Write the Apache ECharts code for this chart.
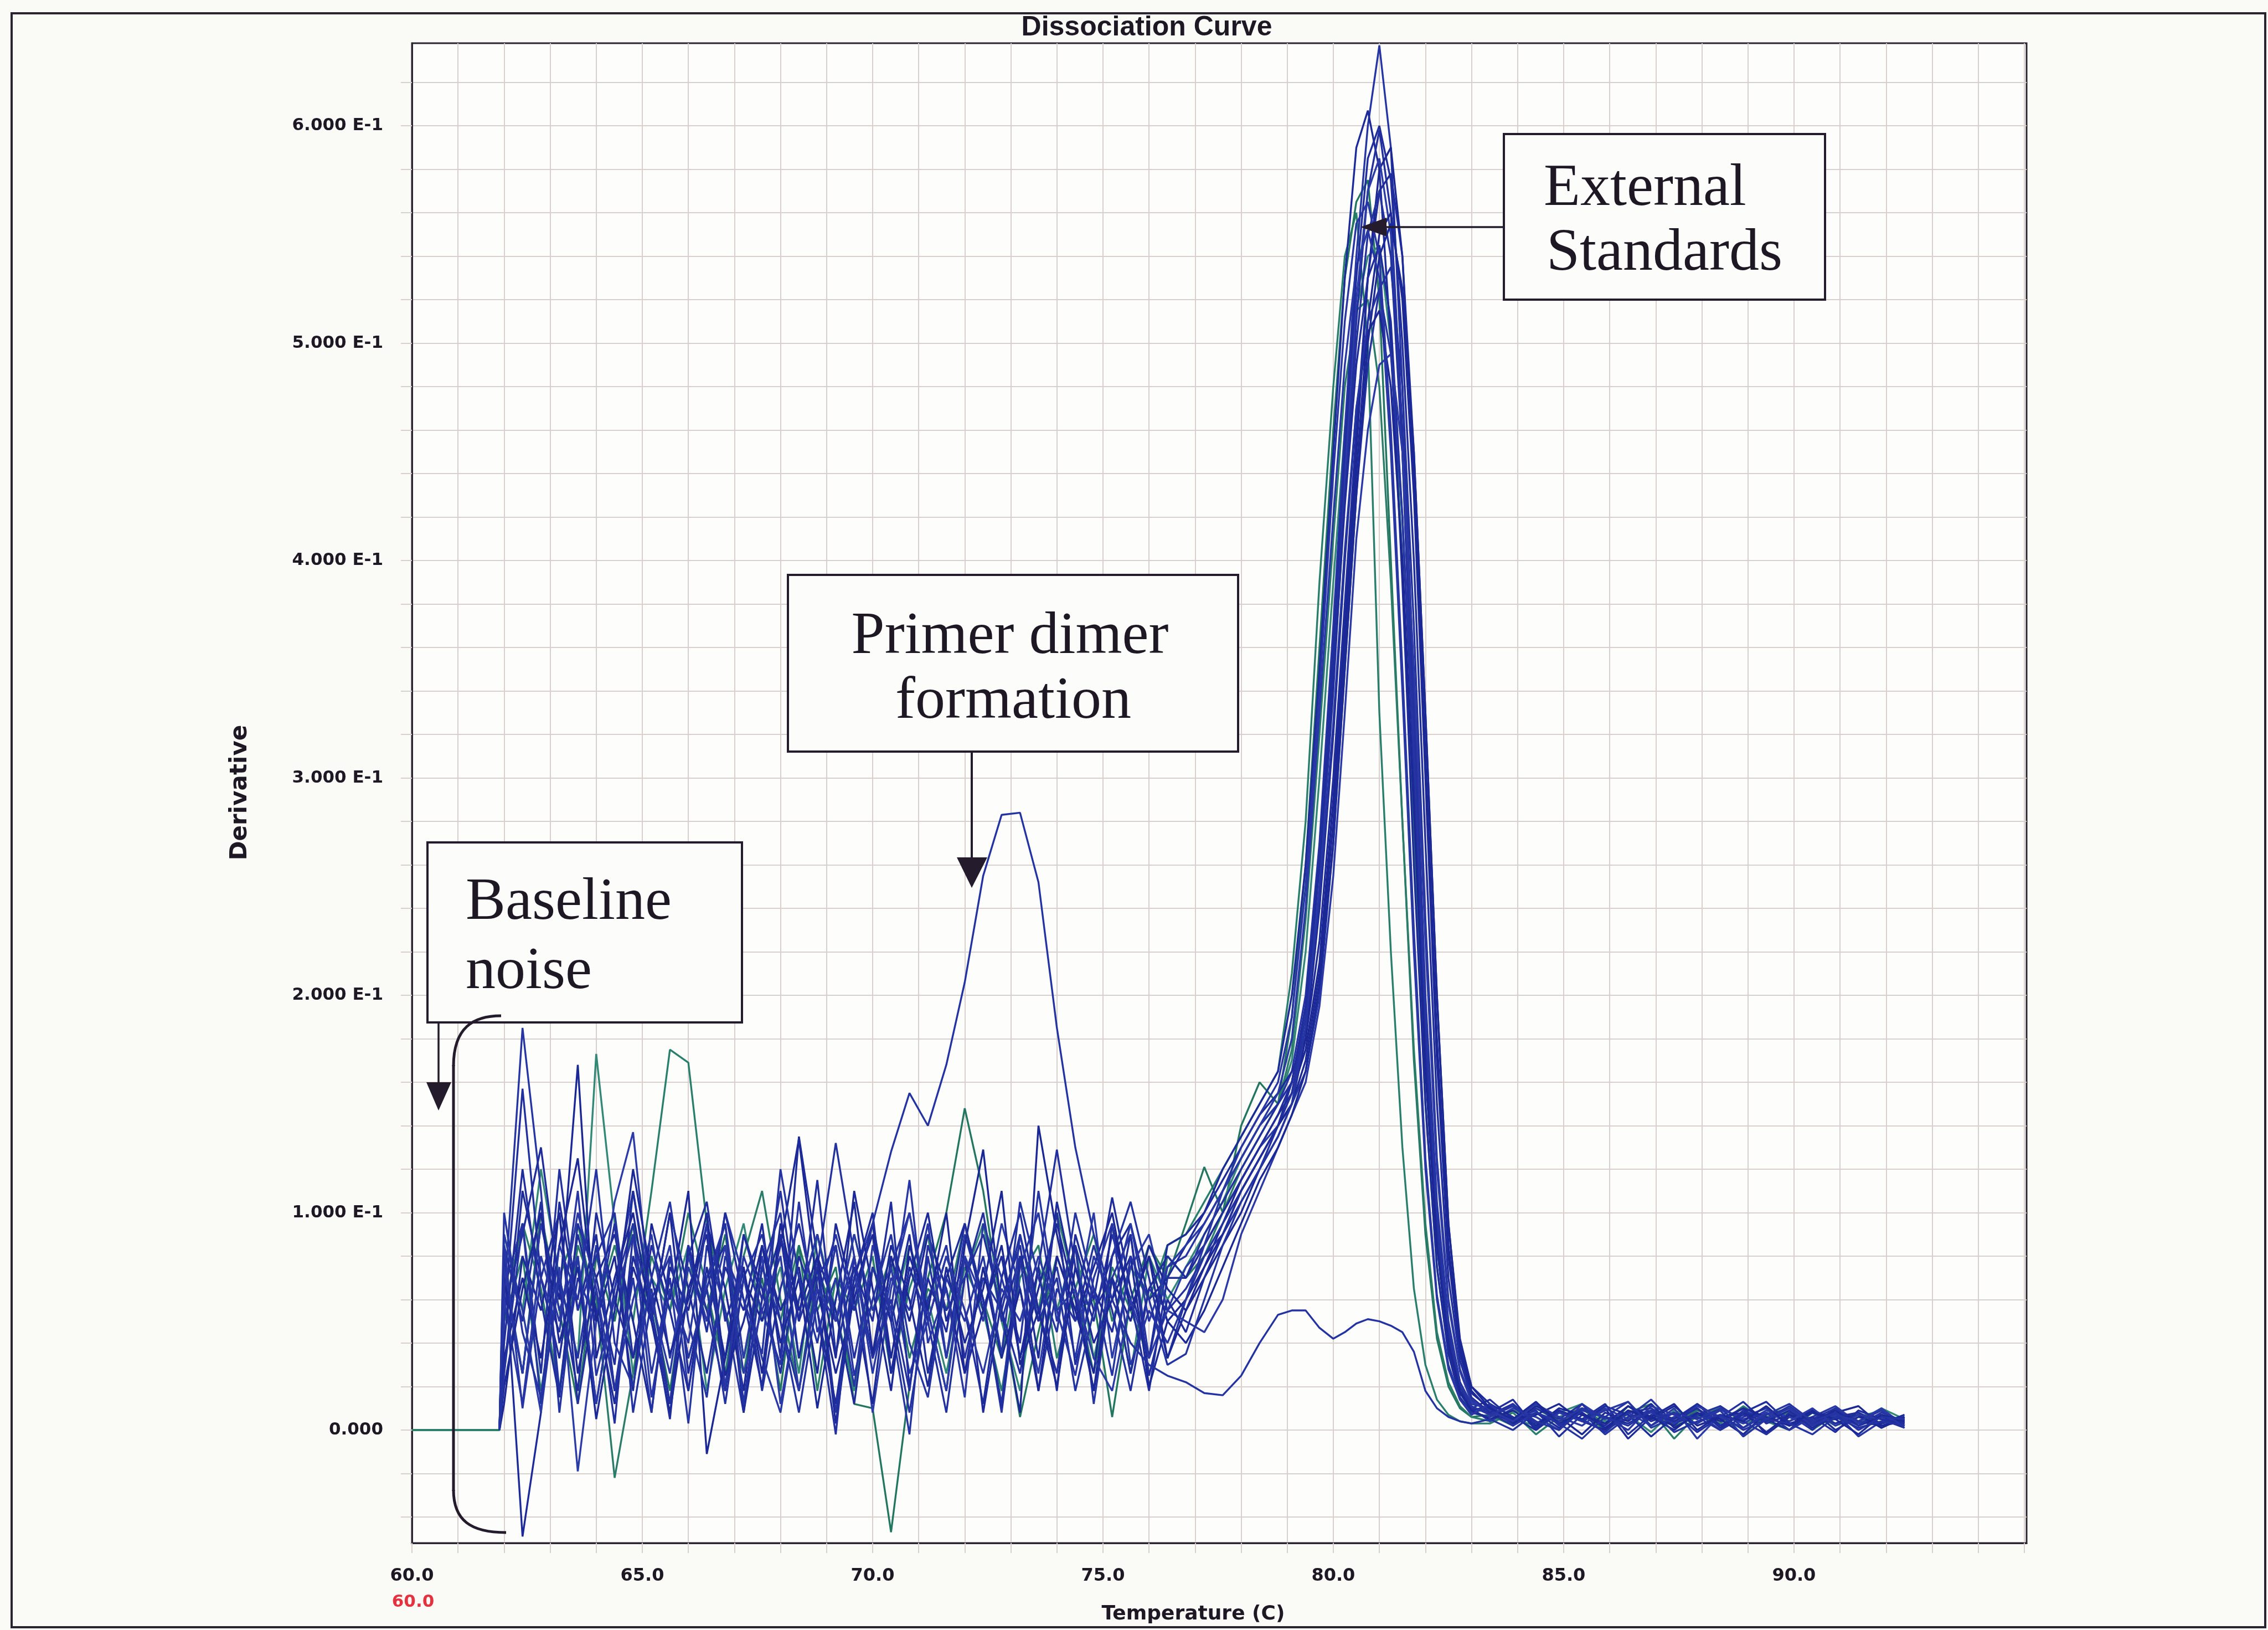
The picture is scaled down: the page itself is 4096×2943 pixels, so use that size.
<!DOCTYPE html>
<html>
<head>
<meta charset="utf-8">
<title>Dissociation Curve</title>
<script src="https://cdn.jsdelivr.net/npm/echarts@6/dist/echarts.min.js"></script>
<style>
  html, body { margin: 0; padding: 0; background: #fafaf7; }
  #chart { width: 4096px; height: 2943px; }
</style>
</head>
<body>
<div id="chart"></div>
<script>
// Melt temperatures (°C) read for every well
const temperatures = [60.0, 61.9,
  62.0, 62.4, 62.8, 63.2, 63.6, 64.0, 64.4, 64.8, 65.2, 65.6, 66.0, 66.4, 66.8, 67.2, 67.6, 68.0, 68.4, 68.8, 69.2, 69.6,
  70.0, 70.4, 70.8, 71.2, 71.6, 72.0, 72.4, 72.8, 73.2, 73.6, 74.0, 74.4, 74.8, 75.2, 75.6, 76.0, 76.4,
  76.8, 77.2, 77.6, 78.0, 78.4, 78.8, 79.1, 79.4, 79.7, 80.0, 80.25, 80.5, 80.75, 81.0, 81.25, 81.5, 81.75, 82.0, 82.25, 82.5, 82.75, 83.0,
  83.4, 83.9, 84.4, 84.9, 85.4, 85.9, 86.4, 86.9, 87.4, 87.9, 88.4, 88.9, 89.4, 89.9, 90.4, 90.9, 91.4, 91.9, 92.4];

// Derivative (-dF/dT) per well, in units of 1E-3 (null = no reading drawn)
const ntcWell = [null, 0,
  26, 95, 12, 70, 33, 85, 18, 70, 8, 80, 33, 65, 95, 12, 75, 50, 8, 60, 90, 55,
  95, 128, 155, 140, 168, 206, 255, 283, 284, 252, 185, 130, 90, 60, 40, 30, 25,
  22, 17, 16, 25, 40, 53, 55, 55, 47, 42, 45, 49, 51, 50, 48, 45, 36, 18, 10, 6, 4, 3,
  5, 0, 8, 3, -4, 6, 2, 9, -1, 4, 7, 0, 5, 3, -2, 6, 1, 4, 2];
const std01 = [null, 0,
  60, 185, 110, 8, 80, 12, 65, 95, 26, 70, 3, 85, 55, 8, 75, 100, 33, 80, 8, 70,
  95, 50, -2, 80, 33, 90, 60, 8, 75, 100, 50, 85, 12, 70, 90, 33, 75,
  80, 95, 110, 125, 140, 150, 165, 200, 270, 370, 460, 540, 600, 637, 590, 480, 340, 200, 105, 50, 22, 12,
  10, 4, 12, 2, 8, -2, 6, 14, 3, 8, 0, 6, 10, 2, 5, 8, -3, 4, 6];
const std02 = [null, 0,
  80, -49, 8, 105, 55, 90, 18, 75, 50, 100, 26, 70, 85, 8, 60, 90, 33, 75, 3, 65,
  90, 26, 70, 100, 50, 80, 8, 60, 85, 33, 105, 65, 18, 80, 95, 60, 70,
  85, 100, 120, 135, 150, 165, 200, 260, 350, 450, 530, 590, 607, 580, 500, 390, 260, 150, 75, 35, 15, 8,
  6, 12, 0, 8, 4, 10, -4, 6, 2, 12, 5, -2, 8, 4, 9, 0, 6, 3, 7];
const std03 = [null, 0,
  50, 157, 70, 100, 12, 65, 3, 90, 55, 12, 80, 105, 50, 75, 18, 65, 95, 55, -2, 80,
  33, 75, 100, 50, 8, 70, 90, 55, 26, 75, 129, 75, 50, 90, 60, 18, 70,
  70, 90, 105, 120, 135, 150, 160, 190, 250, 340, 430, 510, 570, 598, 560, 460, 330, 190, 100, 45, 20, 10,
  14, 5, 9, -3, 7, 2, 11, 4, 8, -1, 6, 13, 3, 7, 0, 10, 4, 2, 5];
const std04 = [null, 0,
  70, 26, 95, 60, 168, 33, 70, 100, 50, 8, 65, 90, 18, 70, 50, 85, 134, 65, 26, 60,
  95, 33, 80, 55, 18, 85, 129, 55, 8, 140, 90, 50, 75, 100, 55, 80, 50,
  60, 75, 95, 115, 130, 145, 155, 175, 215, 290, 370, 450, 530, 580, 590, 540, 440, 310, 180, 85, 38, 18,
  9, 3, 11, 6, -2, 8, 4, 12, 1, 7, 5, 10, -2, 6, 3, 8, 11, 2, 4];
const std05 = [null, 0,
  90, 55, 8, 75, -19, 50, 105, 137, 55, 85, 18, 70, 95, 33, 80, 12, 60, 90, 50, 75,
  8, 65, 100, 55, 18, 80, 50, 95, 65, 26, 80, 55, 100, 33, 75, 90, 55,
  75, 85, 100, 115, 130, 140, 155, 185, 250, 350, 440, 520, 570, 585, 550, 450, 310, 180, 90, 40, 18, 10,
  4, 10, 6, 0, 12, 5, 8, 2, 10, -4, 7, 3, 9, 6, 1, 8, 4, 10, 2];
const std06 = [null, 0,
  26, 110, 70, 33, 90, 55, 12, 80, 50, 100, 65, 26, 75, 55, 95, 33, 135, 80, 55, 12,
  75, 50, 90, 26, 70, 95, 55, 80, 33, 75, 18, 90, 60, 107, 65, 33, 85,
  90, 100, 115, 130, 145, 155, 165, 180, 225, 300, 380, 460, 530, 570, 578, 540, 450, 330, 200, 95, 40, 20,
  12, 6, 0, 9, 4, 11, 7, -3, 6, 10, 2, 8, 5, 0, 9, 3, 7, 5, 1];
const std07 = [null, 0,
  65, 95, 26, 120, 55, 80, 100, 33, 65, 12, 85, 55, 18, 90, 60, 110, 50, 75, 132, 80,
  33, 60, 18, 85, 55, 70, 100, 50, 80, 18, 65, 50, 85, 55, 18, 65, 55,
  65, 80, 95, 110, 125, 140, 155, 190, 260, 350, 430, 500, 550, 570, 540, 450, 320, 185, 95, 42, 20, 10,
  8, 2, 10, 5, 12, 0, 6, 9, 3, 7, 11, 4, -2, 8, 5, 10, 2, 6, 3];
const std08 = [null, 0,
  12, 80, 55, 100, 26, 70, 90, 50, 8, 75, 55, 95, 65, 18, 85, 55, 75, 26, 95, 60,
  12, 80, 50, 90, 65, 26, 55, 85, 33, 65, 95, 60, 18, 70, 50, 85, 65,
  55, 70, 85, 100, 120, 135, 150, 170, 210, 280, 360, 440, 510, 550, 560, 520, 430, 300, 170, 80, 35, 17,
  10, 3, 7, 12, 4, 0, 9, 5, 11, 2, 6, 8, -1, 7, 4, 9, 2, 6, 4];
const std09 = [null, 0,
  75, 26, 95, 55, 80, 12, 65, 110, 60, 26, 80, 50, 100, 70, 33, 8, 60, 90, 50, 80,
  26, 70, 55, 95, 33, 80, 60, 12, 90, 55, 75, 33, 80, 60, 95, 50, 75,
  85, 95, 110, 125, 140, 155, 180, 240, 330, 420, 490, 535, 552, 530, 450, 340, 220, 120, 60, 28, 14, 8,
  6, 11, 2, 8, 4, 9, 13, 1, 6, 3, 10, 5, 8, 0, 6, 11, 3, 7, 2];
const std10 = [null, 0,
  55, 90, 130, 65, 18, 100, 60, 33, 85, 55, 18, 75, 33, 90, 65, 26, 80, 55, 12, 70,
  100, 26, 75, 50, 80, 55, 12, 70, 100, 55, 26, 85, 55, 70, 26, 65, 80,
  70, 85, 100, 115, 130, 145, 160, 195, 260, 345, 425, 490, 530, 545, 510, 420, 300, 170, 85, 38, 17, 9,
  11, 4, 8, 1, 10, 6, 3, 9, 5, 12, 2, 7, 4, 9, 1, 6, 8, 3, 5];
const std11 = [null, 0,
  85, 50, 105, 18, 70, 50, 95, 8, 60, 80, 33, 65, 12, 70, 90, 50, 18, 70, 85, 33,
  75, 55, 8, 60, 85, 33, 70, 55, 90, 50, 70, 18, 55, 80, 105, 70, 33,
  60, 80, 90, 105, 120, 140, 150, 165, 200, 270, 350, 430, 490, 525, 535, 480, 370, 235, 125, 60, 28, 14,
  7, 12, 3, 9, 5, -1, 8, 10, 4, 6, 0, 9, 5, 11, 3, 7, 2, 8, 4];
const std12 = [null, 0,
  33, 70, 33, 85, 125, 50, 80, 18, 95, 60, 110, -11, 33, 75, 26, 95, 55, 80, 33, 110,
  65, 18, 85, 55, 100, 26, 75, 33, 65, 18, 80, 55, 26, 95, 55, 80, 33,
  55, 75, 90, 110, 125, 140, 150, 180, 240, 320, 400, 470, 505, 515, 480, 400, 285, 165, 85, 40, 18, 9,
  5, 9, 2, 10, 7, 3, 11, 6, 0, 8, 4, 10, 6, 2, 9, 5, 7, 1, 6];
const std13 = [null, 0,
  60, 12, 80, 50, 100, 65, 18, 60, 90, 33, 75, 50, 85, 26, 55, 80, 18, 65, 50, 90,
  55, 75, 26, 50, 80, 55, 26, 65, 50, 80, 55, 65, 33, 18, 60, 33, 55,
  50, 45, 60, 90, 110, 130, 145, 160, 195, 255, 330, 410, 460, 490, 495, 450, 350, 225, 120, 58, 27, 13,
  9, 4, 12, 6, 2, 10, 5, 8, 3, 11, 6, 1, 8, 4, 10, 2, 7, 5, 3];
const std14 = [null, 0,
  40, 120, 60, 15, 95, 70, 30, 110, 55, 5, 85, 45, 100, 60, 20, 90, 50, 115, 35, 75,
  50, 105, 20, 70, 45, 95, 60, 10, 80, 50, 100, 30, 65, 45, 90, 25, 60,
  45, 70, 90, 110, 125, 140, 160, 195, 265, 360, 450, 530, 585, 600, 575, 500, 400, 270, 150, 70, 32, 15,
  8, 14, 1, 9, 5, 12, -2, 7, 4, 10, 1, 8, 13, 3, 6, -1, 9, 5, 3];
const std15 = [null, 0,
  85, 10, 70, 45, 110, 25, 60, 90, 15, 65, 40, 95, 20, 80, 55, 30, 105, 45, 70, 20,
  85, 55, 115, 40, 65, 15, 95, 70, 40, 110, 55, 25, 70, 95, 30, 55, 40,
  60, 85, 110, 130, 145, 160, 190, 250, 340, 440, 510, 555, 565, 540, 460, 350, 230, 125, 62, 30, 14, 7,
  12, 2, 8, 4, 10, 6, 0, 11, 7, 3, 9, -3, 5, 10, 2, 7, 4, 9, 1];
const std16 = [null, 0,
  20, 65, 100, 40, 75, 5, 55, 120, 70, 35, 60, 100, 25, 50, 85, 40, 70, 10, 60, 105,
  35, 85, 60, 20, 75, 40, 65, 110, 30, 55, 20, 75, 40, 60, 80, 20, 50,
  40, 55, 75, 95, 115, 130, 145, 165, 205, 270, 350, 430, 500, 540, 555, 525, 450, 330, 200, 95, 42, 20,
  10, 5, 13, 3, 8, 1, 9, 6, 12, 0, 7, 4, 11, 2, 8, 5, -2, 7, 4];
const std17 = [null, 0,
  100, 45, 15, 85, 60, 120, 40, 20, 70, 105, 50, 15, 80, 60, 35, 120, 70, 40, 85, 25,
  60, 90, 40, 15, 70, 50, 80, 35, 105, 70, 45, 100, 65, 25, 80, 60, 30,
  35, 60, 85, 105, 120, 135, 150, 185, 245, 325, 405, 470, 510, 525, 495, 420, 310, 190, 100, 48, 22, 11,
  7, 11, 4, 0, 9, 6, 13, 2, 8, 5, 10, 1, 7, 12, 4, 8, 0, 6, 5];
const grn01 = [0, 0,
  50, 80, 18, 70, 95, 55, 85, 50, 110, 175, 169, 95, 55, 26, 75, 50, 85, 18, 70, 55,
  80, 26, 65, 90, 33, 75, 55, 18, 70, 85, 33, 65, 90, 50, 75, 60, 85,
  90, 105, 120, 135, 150, 165, 210, 280, 390, 480, 540, 560, 500, 330, 220, 130, 65, 30, 14, 7, 4, 3,
  3, 8, -2, 6, 10, 1, 5, 9, -4, 7, 3, 11, 4, 0, 8, 2, 6, 9, 3];
const grn02 = [0, 0,
  70, 26, 100, 55, 12, 80, 50, 95, 60, 18, 75, 55, 90, 33, 70, 18, 85, 55, 75, 12,
  10, -47, 20, 70, 100, 148, 110, 55, 6, 45, 80, 55, 60, 6, 60, 85, 70,
  95, 121, 100, 140, 160, 150, 190, 260, 360, 460, 530, 565, 575, 520, 400, 280, 170, 90, 42, 20, 10, 6,
  7, 2, 10, 4, 8, 0, 11, 5, 3, 9, 6, -2, 7, 10, 3, 5, 8, 1, 6];
const grn03 = [0, 0,
  90, 55, 120, 70, 33, 173, 95, 26, 70, 55, 85, 18, 65, 95, 50, 75, 26, 90, 55, 18,
  75, 50, 85, 60, 26, 70, 95, 50, 18, 75, 55, 85, 33, 70, 26, 80, 60,
  75, 90, 105, 125, 140, 150, 170, 220, 300, 390, 460, 515, 540, 545, 500, 400, 270, 150, 75, 35, 15, 8,
  10, 5, 2, 8, 12, 4, 7, -1, 9, 5, 11, 3, 6, 8, 0, 7, 4, 10, 5];
const grn04 = [0, 0,
  55, 95, 65, 18, 85, 60, -22, 26, 80, 55, 100, 65, 26, 80, 110, 60, 18, 75, 50, 90,
  55, 80, 33, 65, 55, 95, 60, 33, 80, 55, 100, 65, 26, 75, 55, 33, 80,
  70, 80, 100, 120, 135, 150, 175, 235, 320, 410, 480, 515, 520, 480, 390, 280, 175, 95, 45, 22, 11, 6,
  4, 9, 6, 0, 10, 3, 8, 12, 2, 6, 9, -3, 5, 8, 2, 10, 4, 7, 2];

// Axis ticks and labels
const xTickValues = [60, 61, 62, 63, 64, 65, 66, 67, 68, 69, 70, 71, 72, 73, 74, 75, 76, 77,
  78, 79, 80, 81, 82, 83, 84, 85, 86, 87, 88, 89, 90, 91, 92, 93, 94, 95];
const xLabelValues = [60, 65, 70, 75, 80, 85, 90];
const yTickValues = [-40, -20, 0, 20, 40, 60, 80, 100, 120, 140, 160, 180, 200, 220, 240, 260,
  280, 300, 320, 340, 360, 380, 400, 420, 440, 460, 480, 500, 520, 540, 560, 580, 600, 620];
const yLabelValues = [0, 100, 200, 300, 400, 500, 600];

const wells = [
  { name: 'Standard G1', values: grn01, color: '#2a7f6c' },
  { name: 'Standard G2', values: grn02, color: '#237660' },
  { name: 'Standard G3', values: grn03, color: '#338877' },
  { name: 'Standard G4', values: grn04, color: '#2b7d69' },
  { name: 'Standard 1', values: std01, color: '#2535a3' },
  { name: 'Standard 2', values: std02, color: '#1c2a9a' },
  { name: 'Standard 3', values: std03, color: '#22309f' },
  { name: 'Standard 4', values: std04, color: '#1a2794' },
  { name: 'Standard 5', values: std05, color: '#2b3ba8' },
  { name: 'Standard 6', values: std06, color: '#1d2b9b' },
  { name: 'Standard 7', values: std07, color: '#24329f' },
  { name: 'Standard 8', values: std08, color: '#1b2896' },
  { name: 'Standard 9', values: std09, color: '#2838a6' },
  { name: 'Standard 10', values: std10, color: '#1e2c9c' },
  { name: 'Standard 11', values: std11, color: '#2332a1' },
  { name: 'Standard 12', values: std12, color: '#1a2795' },
  { name: 'Standard 13', values: std13, color: '#2a39a5' },
  { name: 'Standard 14', values: std14, color: '#202e9d' },
  { name: 'Standard 15', values: std15, color: '#2736a4' },
  { name: 'Standard 16', values: std16, color: '#1b2997' },
  { name: 'Standard 17', values: std17, color: '#2434a2' },
  { name: 'NTC', values: ntcWell, color: '#2433a2' }
];

wells.forEach(function (w) {
  if (w.values.length !== temperatures.length) {
    throw new Error(w.name + ' has ' + w.values.length + ' values, expected ' + temperatures.length);
  }
});

const frameColor = '#2b2431';
const gridColor = '#d9d0cd';
const inkColor = '#1e1824';
const serif = '"Liberation Serif", "Times New Roman", serif';
const calloutFont = '108px ' + serif;

const chart = echarts.init(document.getElementById('chart'), null, { renderer: 'canvas' });

const boxStyle = { fill: '#fcfcfa', stroke: '#241c2c', lineWidth: 4 };
const penStyle = { stroke: '#241c2c', lineWidth: 5, fill: null };

chart.setOption({
  animation: false,
  backgroundColor: '#fafaf7',
  grid: {
    left: 744, top: 78, width: 2916, height: 2708,
    show: true, backgroundColor: '#fdfdfc', borderColor: frameColor, borderWidth: 3
  },
  xAxis: {
    type: 'value', min: 60, max: 95.05,
    axisLine: { show: true, onZero: false, lineStyle: { color: frameColor, width: 3 } },
    axisTick: { show: true, customValues: xTickValues, length: 18, lineStyle: { color: gridColor, width: 2 } },
    axisLabel: {
      customValues: xLabelValues, margin: 44,
      formatter: function (v) { return v.toFixed(1); },
      fontFamily: 'DejaVu Sans', fontWeight: 'bold', fontSize: 32, color: inkColor
    },
    splitLine: { show: true, lineStyle: { color: gridColor, width: 2 } }
  },
  yAxis: {
    type: 'value', min: -52, max: 638,
    axisLine: { show: true, onZero: false, lineStyle: { color: frameColor, width: 3 } },
    axisTick: { show: true, customValues: yTickValues, length: 20, lineStyle: { color: gridColor, width: 2 } },
    axisLabel: {
      customValues: yLabelValues, margin: 52,
      formatter: function (v) { return v === 0 ? '0.000' : (v / 100).toFixed(3) + ' E-1'; },
      fontFamily: 'DejaVu Sans', fontWeight: 'bold', fontSize: 31, color: inkColor
    },
    splitLine: { show: true, lineStyle: { color: gridColor, width: 2 } }
  },
  series: wells.map(function (w) {
    return {
      type: 'line',
      name: w.name,
      data: temperatures.map(function (t, i) { return [t, w.values[i]]; }),
      showSymbol: false,
      symbol: 'none',
      connectNulls: false,
      lineStyle: { color: w.color, width: 3.4 },
      itemStyle: { color: w.color },
      emphasis: { disabled: true }
    };
  }),
  graphic: [
    // page border
    { type: 'rect', z: 1, shape: { x: 21, y: 24, width: 4070, height: 2914 },
      style: { fill: null, stroke: '#2a2430', lineWidth: 4 } },
    // title and axis names
    { type: 'text', z: 100, style: { text: 'Dissociation Curve', x: 2071, y: 50,
      font: 'bold 50px "Liberation Sans", Arial, sans-serif', fill: inkColor,
      textAlign: 'center', textVerticalAlign: 'middle' } },
    { type: 'text', z: 100, x: 434, y: 1431, rotation: Math.PI / 2,
      style: { text: 'Derivative', x: 0, y: 0,
      font: 'bold 42px "DejaVu Sans", sans-serif', fill: inkColor,
      textAlign: 'center', textVerticalAlign: 'middle' } },
    { type: 'text', z: 100, style: { text: 'Temperature (C)', x: 2155, y: 2915,
      font: 'bold 36px "DejaVu Sans", sans-serif', fill: inkColor,
      textAlign: 'center', textVerticalAlign: 'middle' } },
    { type: 'text', z: 100, style: { text: '60.0', x: 746, y: 2893,
      font: 'bold 31px "DejaVu Sans", sans-serif', fill: '#e5323e',
      textAlign: 'center', textVerticalAlign: 'middle' } },

    // External Standards callout
    { type: 'line', z: 100, shape: { x1: 2716, y1: 410, x2: 2495, y2: 410 }, style: { stroke: '#241c2c', lineWidth: 3.5 } },
    { type: 'polygon', z: 100, shape: { points: [[2457, 410], [2504, 393], [2504, 427]] }, style: { fill: '#241c2c' } },
    { type: 'rect', z: 100, shape: { x: 2716, y: 242, width: 580, height: 299 }, style: boxStyle },
    { type: 'text', z: 101, style: { text: 'External', x: 2788, y: 342, font: calloutFont,
      fill: inkColor, textAlign: 'left', textVerticalAlign: 'middle' } },
    { type: 'text', z: 101, style: { text: 'Standards', x: 2793, y: 459, font: calloutFont,
      fill: inkColor, textAlign: 'left', textVerticalAlign: 'middle' } },

    // Primer dimer callout
    { type: 'line', z: 100, shape: { x1: 1755, y1: 1357, x2: 1755, y2: 1560 }, style: { stroke: '#241c2c', lineWidth: 4 } },
    { type: 'polygon', z: 100, shape: { points: [[1728, 1548], [1783, 1548], [1755, 1603]] }, style: { fill: '#241c2c' } },
    { type: 'rect', z: 100, shape: { x: 1423, y: 1038, width: 813, height: 319 }, style: boxStyle },
    { type: 'text', z: 101, style: { text: 'Primer dimer', x: 1824, y: 1151, font: calloutFont,
      fill: inkColor, textAlign: 'center', textVerticalAlign: 'middle' } },
    { type: 'text', z: 101, style: { text: 'formation', x: 1830, y: 1268, font: calloutFont,
      fill: inkColor, textAlign: 'center', textVerticalAlign: 'middle' } },

    // Baseline noise callout with bracket
    { type: 'line', z: 100, shape: { x1: 792, y1: 1847, x2: 792, y2: 1960 }, style: { stroke: '#241c2c', lineWidth: 3.5 } },
    { type: 'polygon', z: 100, shape: { points: [[770, 1954], [815, 1954], [792, 2005]] }, style: { fill: '#241c2c' } },
    { type: 'rect', z: 100, shape: { x: 772, y: 1521, width: 568, height: 325 }, style: boxStyle },
    { type: 'text', z: 101, style: { text: 'Baseline', x: 841, y: 1631, font: calloutFont,
      fill: inkColor, textAlign: 'left', textVerticalAlign: 'middle' } },
    { type: 'text', z: 101, style: { text: 'noise', x: 841, y: 1756, font: calloutFont,
      fill: inkColor, textAlign: 'left', textVerticalAlign: 'middle' } },
    { type: 'bezierCurve', z: 100, shape: { x1: 905, y1: 1834, cpx1: 855, cpy1: 1834, cpx2: 819, cpy2: 1855, x2: 819, y2: 1925 },
      style: penStyle },
    { type: 'line', z: 100, shape: { x1: 819, y1: 1923, x2: 819, y2: 2692 }, style: penStyle },
    { type: 'bezierCurve', z: 100, shape: { x1: 819, y1: 2690, cpx1: 819, cpy1: 2745, cpx2: 850, cpy2: 2767, x2: 914, y2: 2767 },
      style: penStyle }
  ]
});
</script>
</body>
</html>
